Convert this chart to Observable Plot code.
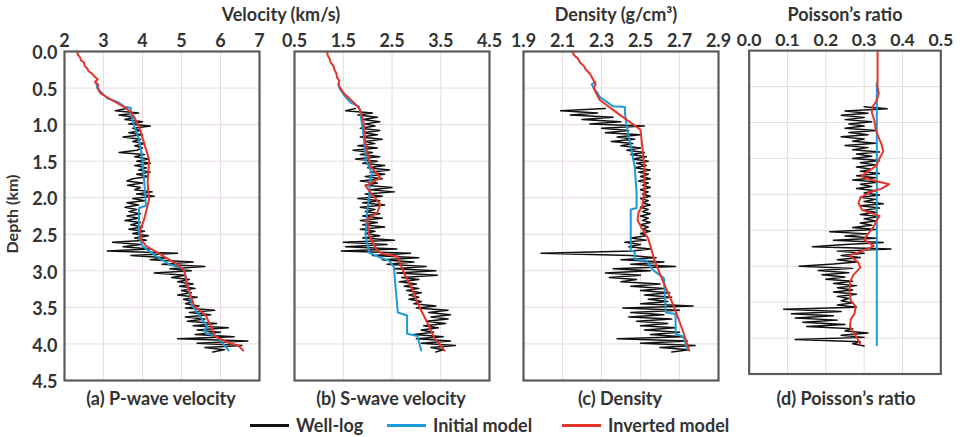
<!DOCTYPE html>
<html><head><meta charset="utf-8">
<script src="https://cdn.jsdelivr.net/npm/d3@7"></script>
<script src="https://cdn.jsdelivr.net/npm/@observablehq/plot@0.6"></script>
<style>
body{margin:0;background:#fff;}
#chart{position:relative;width:960px;height:437px;overflow:hidden;font-family:Lato,"Open Sans",sans-serif;font-weight:700;color:#333;}
.t{position:absolute;white-space:nowrap;line-height:20px;}
.panel{position:absolute;top:0;}
.lg{position:absolute;height:3px;}
</style></head><body><div id="chart"></div>
<script>
// ---------- data ----------
const depthTicks = [0, 0.5, 1, 1.5, 2, 2.5, 3, 3.5, 4, 4.5];
const vpTicks = [2, 3, 4, 5, 6, 7];
const vsTicks = [0.5, 1.5, 2.5, 3.5, 4.5];
const rhoTicks = [1.9, 2.1, 2.3, 2.5, 2.7, 2.9];
const prTicks = [0, 0.1, 0.2, 0.3, 0.4, 0.5];
const groupTitles = ["Velocity (km/s)", "Density (g/cm³)", "Poisson’s ratio"];
const panelLabels = ["(a) P-wave velocity", "(b) S-wave velocity", "(c) Density", "(d) Poisson’s ratio"];
const seriesNames = ["Well-log", "Initial model", "Inverted model"];

// well-log sampling depths (km)
const wellDepth = [0.78,0.81,0.84,0.87,0.90,0.93,0.96,0.99,1.02,1.05,
1.08,1.11,1.14,1.17,1.20,1.23,1.26,1.29,1.32,1.35,
1.38,1.41,1.44,1.47,1.50,1.53,1.56,1.59,1.62,1.65,
1.68,1.71,1.74,1.77,1.80,1.83,1.86,1.89,1.92,1.95,
1.98,2.01,2.04,2.07,2.10,2.13,2.16,2.19,2.22,2.25,
2.28,2.31,2.34,2.37,2.40,2.43,2.46,2.49,2.52,2.55,
2.58,2.61,2.64,2.67,2.70,2.73,2.76,2.79,2.82,2.85,
2.88,2.91,2.94,2.97,3.00,3.03,3.06,3.09,3.12,3.15,
3.18,3.21,3.24,3.27,3.30,3.33,3.36,3.39,3.42,3.45,
3.48,3.51,3.54,3.57,3.60,3.63,3.66,3.69,3.72,3.75,
3.78,3.81,3.84,3.87,3.90,3.93,3.96,3.99,4.02,4.05,
4.08,4.11];

const vpWell = [3.60,3.30,3.90,3.40,3.80,3.55,4.00,3.65,4.20,3.75,
3.95,3.65,4.00,3.50,3.95,3.75,4.05,3.80,4.00,3.85,
3.40,4.05,3.80,4.15,3.85,4.20,3.80,4.10,3.90,4.20,
3.85,4.15,3.75,3.60,4.00,3.62,3.95,3.80,4.25,3.85,
4.30,3.75,4.05,3.60,3.90,3.55,3.85,3.65,3.95,3.60,
3.90,3.55,3.95,3.70,4.00,3.65,4.05,3.75,4.15,3.80,
4.10,3.23,3.95,3.50,4.20,3.10,4.90,3.70,4.60,4.20,
5.30,4.50,5.60,4.70,5.25,4.30,5.10,4.75,5.20,4.90,
5.30,4.95,5.35,5.00,5.25,4.90,5.40,5.05,5.30,5.10,
5.45,5.10,5.85,5.20,5.75,5.10,5.60,5.15,5.90,5.30,
6.20,5.40,6.00,5.35,6.35,4.90,6.70,5.40,6.55,5.60,
6.10,5.80];

const vsWell = [1.75,1.55,2.10,1.80,2.20,1.90,2.25,1.95,2.15,1.85,
2.25,1.90,2.20,1.85,2.30,1.95,2.15,1.80,2.20,1.70,
2.10,1.85,2.25,1.75,2.20,1.90,2.35,2.00,2.45,2.05,
2.35,1.95,2.30,1.85,2.20,1.95,2.50,2.05,2.55,1.95,
2.30,1.80,2.25,1.90,2.35,1.85,2.15,1.95,2.25,1.90,
2.30,1.85,2.20,1.90,2.35,1.85,2.15,1.95,2.25,1.90,
2.55,1.50,2.40,1.55,2.60,1.46,2.88,2.10,3.05,2.30,
2.95,2.40,3.20,2.55,3.40,2.60,3.43,2.70,3.05,2.65,
3.00,2.75,3.05,2.80,3.10,2.85,3.05,2.85,3.10,2.95,
3.40,3.00,3.65,3.25,3.70,3.30,3.65,3.20,3.60,3.15,
3.45,3.10,3.35,2.95,3.55,3.00,3.70,3.10,3.80,3.30,
3.55,3.40];

const rhoWell = [2.32,2.09,2.28,2.14,2.36,2.20,2.40,2.24,2.52,2.30,
2.44,2.32,2.50,2.38,2.47,2.35,2.46,2.40,2.50,2.43,
2.52,2.45,2.53,2.46,2.54,2.48,2.53,2.47,2.55,2.49,
2.54,2.50,2.55,2.49,2.54,2.51,2.55,2.50,2.54,2.51,
2.55,2.50,2.54,2.51,2.55,2.50,2.54,2.51,2.55,2.50,
2.54,2.51,2.55,2.50,2.54,2.51,2.55,2.50,2.53,2.45,
2.53,2.42,2.50,2.44,2.55,2.46,1.99,2.45,2.58,2.40,
2.62,2.45,2.68,2.36,2.55,2.32,2.50,2.34,2.48,2.40,
2.60,2.45,2.62,2.50,2.65,2.52,2.66,2.54,2.64,2.50,
2.77,2.41,2.70,2.45,2.62,2.44,2.66,2.48,2.64,2.50,
2.68,2.52,2.70,2.55,2.72,2.38,2.74,2.50,2.78,2.60,
2.75,2.66];

const prWell = [0.30,0.36,0.25,0.31,0.24,0.30,0.25,0.32,0.26,0.30,
0.25,0.33,0.26,0.31,0.24,0.30,0.27,0.33,0.25,0.31,
0.27,0.34,0.28,0.32,0.27,0.34,0.29,0.33,0.28,0.32,
0.29,0.34,0.28,0.33,0.27,0.34,0.29,0.32,0.28,0.33,
0.30,0.34,0.29,0.33,0.30,0.35,0.29,0.34,0.30,0.33,
0.29,0.34,0.30,0.33,0.29,0.32,0.27,0.33,0.21,0.31,
0.25,0.33,0.22,0.35,0.24,0.165,0.37,0.23,0.30,0.24,
0.29,0.23,0.28,0.22,0.13,0.27,0.18,0.26,0.19,0.25,
0.20,0.27,0.22,0.28,0.23,0.27,0.22,0.28,0.23,0.26,
0.24,0.27,0.23,0.28,0.09,0.24,0.11,0.22,0.12,0.23,
0.14,0.25,0.15,0.27,0.25,0.31,0.24,0.30,0.12,0.29,
0.27,0.30];

// models: [depth km, value]
const vpInitial = [[0.45,2.82],[0.50,2.84],[0.55,2.93],[0.60,3.02],[0.64,3.10],[0.70,3.40],[0.76,3.55],[0.77,3.70],[0.84,3.70],[0.95,3.75],[1.02,3.79],[1.20,3.91],[1.48,4.00],[1.75,4.04],[2.11,4.09],[2.14,3.91],[2.52,3.91],[2.66,4.00],[2.73,4.17],[2.84,4.47],[2.91,4.68],[2.95,4.94],[2.98,5.07],[3.20,5.15],[3.48,5.28],[3.57,5.41],[3.70,5.58],[3.76,5.66],[3.82,5.58],[3.86,5.64],[3.88,5.86],[3.94,5.98],[4.09,6.21]];
const vpInverted = [[0.00,2.32],[0.05,2.35],[0.08,2.40],[0.12,2.42],[0.15,2.50],[0.20,2.52],[0.23,2.58],[0.27,2.62],[0.30,2.70],[0.35,2.78],[0.38,2.85],[0.42,2.78],[0.45,2.86],[0.50,2.85],[0.57,2.92],[0.67,3.23],[0.77,3.57],[0.84,3.72],[1.02,3.91],[1.25,4.04],[1.48,4.17],[1.65,4.15],[1.80,4.13],[2.02,4.17],[2.30,4.04],[2.45,3.94],[2.57,3.96],[2.66,4.09],[2.75,4.38],[2.86,4.73],[2.95,4.98],[3.00,5.07],[3.20,5.15],[3.48,5.32],[3.61,5.62],[3.70,5.70],[3.80,5.79],[3.89,5.84],[3.98,6.18],[4.02,6.45],[4.09,6.58]];
const vsInitial = [[0.45,1.40],[0.50,1.42],[0.60,1.52],[0.70,1.65],[0.75,1.82],[0.84,1.85],[1.16,1.92],[1.48,1.96],[1.66,2.09],[1.75,2.05],[1.98,2.03],[2.20,1.99],[2.52,1.96],[2.75,2.03],[2.82,2.26],[2.86,2.44],[2.95,2.54],[3.20,2.57],[3.57,2.62],[3.61,2.81],[3.86,2.81],[3.89,3.02],[4.09,3.10]];
const vsInverted = [[0.00,1.17],[0.05,1.18],[0.10,1.22],[0.15,1.24],[0.20,1.30],[0.25,1.32],[0.30,1.36],[0.35,1.37],[0.40,1.42],[0.45,1.40],[0.50,1.44],[0.57,1.51],[0.70,1.72],[0.80,1.85],[0.98,1.92],[1.30,1.96],[1.57,2.06],[1.73,2.26],[1.84,1.96],[1.93,2.06],[2.09,2.26],[2.20,2.20],[2.30,1.99],[2.52,2.03],[2.73,2.20],[2.77,2.33],[2.80,2.61],[3.02,2.74],[3.20,2.88],[3.48,3.05],[3.70,3.22],[3.91,3.36],[4.09,3.58]];
const rhoInitial = [[0.42,2.27],[0.45,2.25],[0.50,2.26],[0.57,2.28],[0.62,2.29],[0.75,2.36],[0.76,2.42],[0.84,2.42],[1.02,2.43],[1.30,2.45],[1.57,2.47],[1.93,2.48],[2.14,2.48],[2.16,2.45],[2.72,2.45],[2.74,2.47],[2.84,2.47],[2.86,2.53],[2.98,2.56],[3.00,2.57],[3.10,2.62],[3.57,2.63],[3.59,2.68],[3.86,2.68],[3.90,2.72],[4.07,2.74]];
const rhoInverted = [[0.00,2.15],[0.05,2.16],[0.10,2.18],[0.15,2.19],[0.20,2.21],[0.25,2.22],[0.30,2.24],[0.35,2.25],[0.40,2.26],[0.45,2.27],[0.50,2.26],[0.66,2.29],[0.84,2.38],[1.07,2.50],[1.57,2.52],[1.89,2.52],[2.11,2.51],[2.20,2.49],[2.31,2.485],[2.43,2.51],[2.56,2.54],[2.84,2.57],[3.11,2.61],[3.48,2.67],[3.84,2.72],[4.09,2.75]];
const prInitial = [[0.45,0.333],[4.10,0.333]];
const prInverted = [[0.00,0.335],[0.50,0.335],[0.60,0.338],[0.70,0.332],[0.78,0.322],[0.86,0.320],[0.98,0.327],[1.10,0.330],[1.20,0.337],[1.30,0.345],[1.40,0.350],[1.50,0.340],[1.60,0.332],[1.68,0.310],[1.75,0.293],[1.80,0.320],[1.86,0.365],[1.92,0.345],[1.97,0.315],[2.05,0.290],[2.12,0.285],[2.22,0.295],[2.30,0.340],[2.36,0.333],[2.45,0.325],[2.55,0.310],[2.63,0.300],[2.72,0.325],[2.78,0.300],[2.85,0.262],[2.95,0.285],[3.02,0.290],[3.12,0.272],[3.22,0.263],[3.35,0.262],[3.48,0.265],[3.56,0.278],[3.66,0.275],[3.74,0.265],[3.84,0.263],[3.92,0.272],[4.00,0.282],[4.09,0.290]];

// ---------- drawing ----------
const colWell = "#111111", colInit = "#1b9bd7", colInv = "#e7342b", colGrid = "#e8dcdc";
const chart = document.getElementById("chart");
const rows = a => a.map(([d, v]) => ({d, v}));

const panels = [
  {ticks: vpTicks, fmt: d3.format("d"), well: vpWell, init: vpInitial, inv: vpInverted, left: 0, ml: 64, yAxis: true},
  {ticks: vsTicks, fmt: d3.format(".1f"), well: vsWell, init: vsInitial, inv: vsInverted, left: 274, ml: 20},
  {ticks: rhoTicks, fmt: d3.format(".1f"), well: rhoWell, init: rhoInitial, inv: rhoInverted, left: 503, ml: 20},
  {ticks: prTicks, fmt: d3.format(".1f"), well: prWell, init: prInitial, inv: prInverted, left: 729, ml: 20}
];

panels.forEach(p => {
  const well = wellDepth.map((d, i) => ({d, v: p.well[i]}));
  const marks = [
    Plot.gridX(p.ticks.slice(1, -1), {stroke: colGrid, strokeOpacity: 1, strokeWidth: 1}),
    Plot.gridY(depthTicks.slice(1, -1), {stroke: colGrid, strokeOpacity: 1, strokeWidth: 1}),
    Plot.axisX(p.ticks, {anchor: "top", tickSize: 0, tickPadding: 5, tickFormat: p.fmt, label: null}),
    Plot.line(well, {x: "v", y: "d", stroke: colWell, strokeWidth: 1.5}),
    Plot.line(rows(p.init), {x: "v", y: "d", stroke: colInit, strokeWidth: 2}),
    Plot.line(rows(p.inv), {x: "v", y: "d", stroke: colInv, strokeWidth: 2}),
    Plot.frame({stroke: "#5a5a5a", strokeWidth: 2.2})
  ];
  if (p.yAxis) marks.push(Plot.axisY(depthTicks, {anchor: "left", tickSize: 0, tickPadding: 7, dy: 2, tickFormat: d3.format(".1f"), label: null}));
  const svg = Plot.plot({
    width: p.ml + 195 + 20, height: 385,
    marginTop: 51, marginBottom: 5, marginLeft: p.ml, marginRight: 20,
    x: {domain: [p.ticks[0], p.ticks[p.ticks.length - 1]]},
    y: {domain: [0, 4.5], reverse: true, ...(p.yAxis ? {} : {axis: null})},
    style: {fontFamily: "Lato, 'Open Sans', sans-serif", fontSize: "18px", fontWeight: 700, color: "#333", background: "transparent", overflow: "visible"},
    marks
  });
  const wrap = document.createElement("div");
  wrap.className = "panel";
  wrap.style.left = p.left + "px";
  wrap.appendChild(svg);
  chart.appendChild(wrap);
});

function text(str, x, y, size, extra = "") {
  const el = document.createElement("div");
  el.className = "t";
  el.textContent = str;
  el.style.cssText += `left:${x}px;top:${y}px;font-size:${size}px;transform:translate(-50%,-50%) ${extra};`;
  chart.appendChild(el);
}
text(groupTitles[0], 281, 14, 18);
text(groupTitles[1], 616, 14, 18);
text(groupTitles[2], 845, 14, 18);
text("Depth (km)", 12, 214, 16, "rotate(-90deg)");
[161, 391, 620, 846].forEach((cx, i) => text(panelLabels[i], cx, 398, 18));

const legend = [[250, colWell], [387, colInit], [562, colInv]];
legend.forEach(([x, c], i) => {
  const l = document.createElement("div");
  l.className = "lg";
  l.style.cssText += `left:${x}px;top:424px;width:39px;background:${c};`;
  chart.appendChild(l);
  const t = document.createElement("div");
  t.className = "t";
  t.textContent = seriesNames[i];
  t.style.cssText += `left:${x + 46}px;top:415px;font-size:18px;`;
  chart.appendChild(t);
});
</script></body></html>
